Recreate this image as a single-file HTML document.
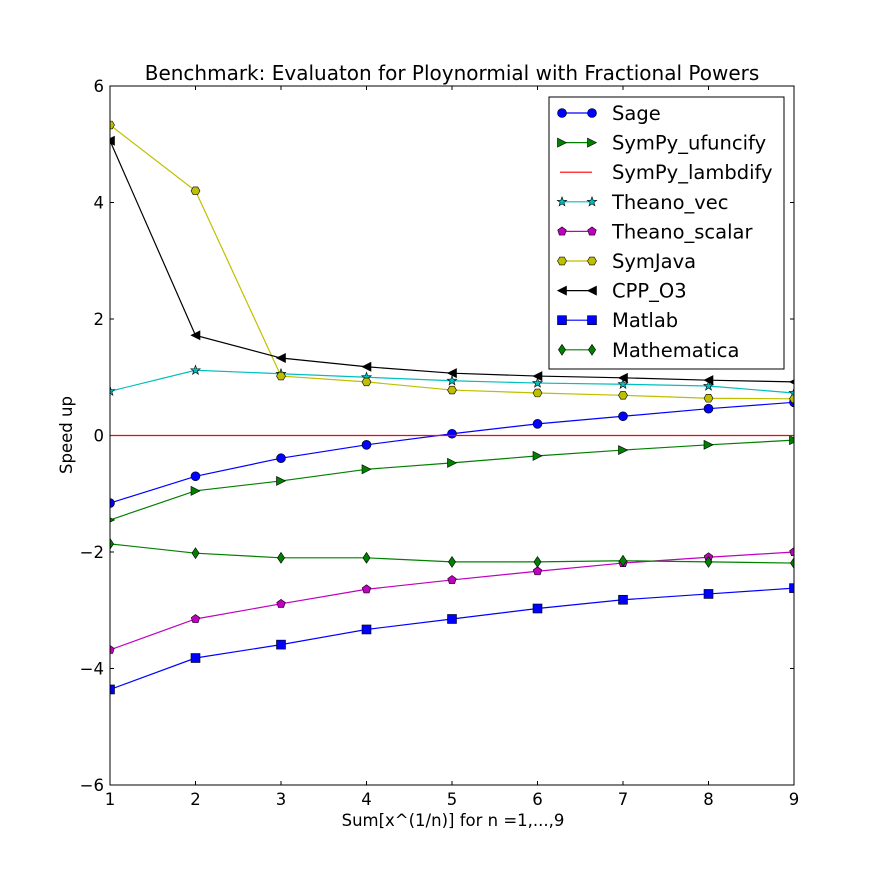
<!DOCTYPE html>
<html><head><meta charset="utf-8"><style>body{margin:0;background:#fff}svg text{font-family:"DejaVu Sans","Liberation Sans",sans-serif}</style></head>
<body>
<svg id="chart" width="882" height="872" xmlns="http://www.w3.org/2000/svg">
<rect width="882" height="872" fill="#fff"/>
<defs><clipPath id="clip"><rect x="110" y="86" width="684" height="699"/></clipPath></defs>
<text x="452" y="80" text-anchor="middle" font-size="20">Benchmark: Evaluaton for Ploynormial with Fractional Powers</text>
<text x="453" y="826" text-anchor="middle" font-size="16.5">Sum[x^(1/n)] for n =1,...,9</text>
<text transform="translate(72,435) rotate(-90)" text-anchor="middle" font-size="16.5">Speed up</text>
<g id="axes"></g>
<g id="series" clip-path="url(#clip)"></g>
<rect x="110" y="86" width="684" height="699" fill="none" stroke="#000" stroke-width="1"/>
<g id="legend"></g>
</svg>
<script>
const xCats=[1,2,3,4,5,6,7,8,9];
const xTicks=[1,2,3,4,5,6,7,8,9];
const yTicks=[-6,-4,-2,0,2,4,6];
const seriesNames=["Sage","SymPy_ufuncify","SymPy_lambdify","Theano_vec","Theano_scalar","SymJava","CPP_O3","Matlab","Mathematica"];
const sage=[-1.16,-0.70,-0.39,-0.16,0.03,0.20,0.33,0.46,0.57];
const ufuncify=[-1.45,-0.95,-0.78,-0.58,-0.47,-0.35,-0.25,-0.16,-0.08];
const lambdify=[0,0,0,0,0,0,0,0,0];
const theanoVec=[0.76,1.12,1.06,1.00,0.94,0.90,0.88,0.85,0.73];
const theanoScalar=[-3.68,-3.15,-2.89,-2.64,-2.48,-2.33,-2.19,-2.09,-2.00];
const symJava=[5.33,4.20,1.02,0.92,0.78,0.73,0.69,0.64,0.63];
const cppO3=[5.06,1.72,1.33,1.18,1.07,1.02,0.99,0.95,0.92];
const matlab=[-4.36,-3.82,-3.59,-3.33,-3.15,-2.97,-2.82,-2.72,-2.62];
const mathematica=[-1.86,-2.02,-2.10,-2.10,-2.17,-2.17,-2.15,-2.17,-2.19];

const NS="http://www.w3.org/2000/svg";
const X=v=>110+(v-1)*(684/8);
const Y=v=>435.5-v*(699/12);
function mk(t,a,p){const e=document.createElementNS(NS,t);for(const k in a)e.setAttribute(k,a[k]);p.appendChild(e);return e;}
const axes=document.getElementById('axes');
xTicks.forEach(t=>{
  const x=X(t);
  const g=mk('g',{},axes);
  
  
  mk('line',{x1:x,x2:x,y1:785,y2:781,stroke:'#000'},g);
  mk('line',{x1:x,x2:x,y1:86,y2:90,stroke:'#000'},g);
  const tx=mk('text',{x:x,y:805,'text-anchor':'middle','font-size':16.5},g);tx.textContent=t;
});
yTicks.forEach(t=>{
  const y=Y(t);
  const g=mk('g',{},axes);
  
  
  mk('line',{x1:110,x2:114,y1:y,y2:y,stroke:'#000'},g);
  mk('line',{x1:790,x2:794,y1:y,y2:y,stroke:'#000'},g);
  const tx=mk('text',{x:104,y:y+6,'text-anchor':'end','font-size':16.5},g);tx.textContent=(t<0?'\u2212'+(-t):t);
});
function marker(type,x,y,color,p){
  const s=4.5;let e;
  const poly=pts=>mk('polygon',{points:pts.map(q=>q.join(',')).join(' '),fill:color,stroke:'#000','stroke-width':0.6},p);
  if(type==='o')e=mk('circle',{cx:x,cy:y,r:s,fill:color,stroke:'#000','stroke-width':0.6},p);
  else if(type==='s')e=mk('rect',{x:x-s,y:y-s,width:2*s,height:2*s,fill:color,stroke:'#000','stroke-width':0.6},p);
  else if(type==='>')e=poly([[x+s,y],[x-s,y-s],[x-s,y+s]]);
  else if(type==='<')e=poly([[x-s,y],[x+s,y-s],[x+s,y+s]]);
  else if(type==='d')e=poly([[x,y-s*1.2],[x+s*0.8,y],[x,y+s*1.2],[x-s*0.8,y]]);
  else if(type==='p'||type==='h'||type==='*'){
    const pts=[];const n=type==='p'?5:(type==='h'?6:10);
    for(let i=0;i<n;i++){const a=-Math.PI/2+i*2*Math.PI/n+(type==='h'?Math.PI/6:0);const r=type==='*'?(i%2?s*0.45:s*1.1):s;pts.push([x+r*Math.cos(a),y+r*Math.sin(a)]);}
    e=poly(pts);
  }
  return e;
}
const defs=[
 {d:sage,c:'#0000ff',m:'o'},{d:ufuncify,c:'#008000',m:'>'},{d:lambdify,c:'#ff0000',m:null},
 {d:theanoVec,c:'#00bfbf',m:'*'},{d:theanoScalar,c:'#bf00bf',m:'p'},{d:symJava,c:'#bfbf00',m:'h'},
 {d:cppO3,c:'#000000',m:'<'},{d:matlab,c:'#0000ff',m:'s'},{d:mathematica,c:'#008000',m:'d'}];
const sg=document.getElementById('series');
defs.forEach((s,i)=>{
  const g=mk('g',{},sg);
  
  
  mk('polyline',{points:s.d.map((v,j)=>X(xCats[j])+','+Y(v)).join(' '),fill:'none',stroke:s.c,'stroke-width':1.2},g);
  if(s.m)s.d.forEach((v,j)=>marker(s.m,X(xCats[j]),Y(v),s.c,g));
});
const lg=document.getElementById('legend');
const box=mk('rect',{x:549,y:97,width:235,height:272,fill:'#fff',stroke:'#000'},lg);


defs.forEach((s,i)=>{
  const y=113+i*29.6;
  const g=mk('g',{},lg);
  
  
  mk('line',{x1:560,x2:592,y1:y,y2:y,stroke:s.c,'stroke-width':1.2},g);
  if(s.m){marker(s.m,562,y,s.c,g);marker(s.m,592,y,s.c,g);}
  const t=mk('text',{x:612,y:y+7,'font-size':19.5},g);t.textContent=seriesNames[i];
});
</script>
</body></html>
